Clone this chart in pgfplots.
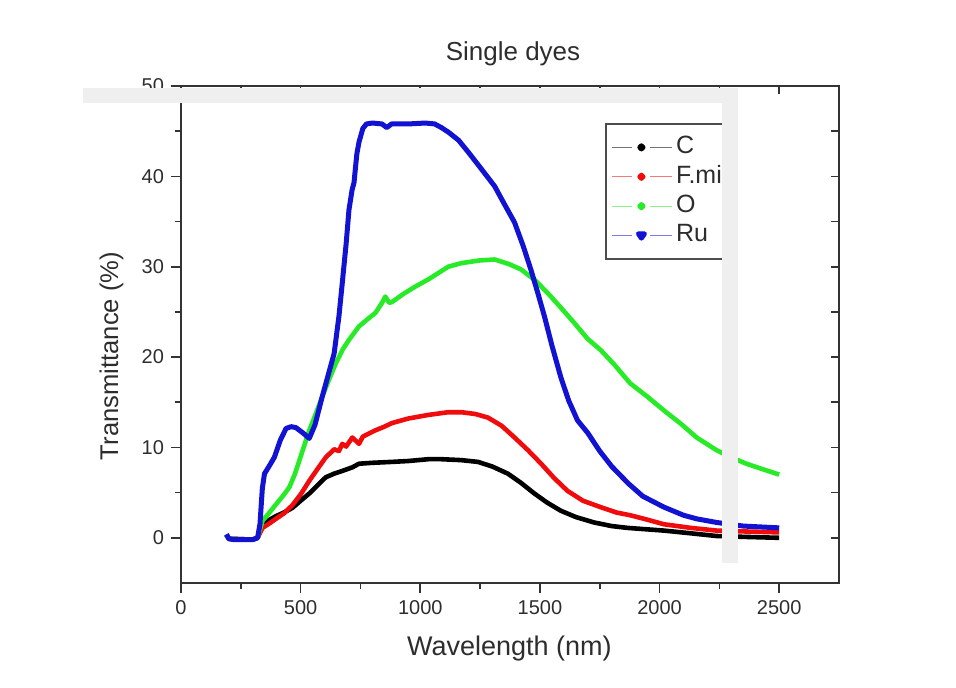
\documentclass[border=0pt]{standalone}
\usepackage{fontspec}
\setmainfont{Liberation Sans}
\usepackage{pgfplots}
\pgfplotsset{compat=1.18}
\definecolor{cC}{RGB}{0,0,0}
\definecolor{cF}{RGB}{240,12,12}
\definecolor{cO}{RGB}{40,235,40}
\definecolor{cR}{RGB}{18,18,210}
\definecolor{band}{RGB}{239,239,239}
\definecolor{txt}{RGB}{45,45,45}
\pgfplotsset{
  dotleg/.style={legend image code/.code={
    \draw[line width=0.6pt,opacity=0.55] (0pt,0pt) -- (10pt,0pt) (19pt,0pt) -- (30pt,0pt);
    \fill (14.5pt,0pt) circle (0.9pt);}},
  trileg/.style={legend image code/.code={
    \draw[line width=0.6pt,opacity=0.55] (0pt,0pt) -- (10pt,0pt) (19pt,0pt) -- (30pt,0pt);
    \fill (13pt,0.9pt) -- (16pt,0.9pt) -- (14.5pt,-1.3pt) -- cycle;}},
  common/.style={
    scale only axis, width=329pt, height=248.5pt,
    at={(0pt,0pt)}, anchor=south west,
    xmin=0, xmax=2750, ymin=-5, ymax=50,
    xtick={0,500,...,2500}, ytick={0,10,...,50},
    minor x tick num=1, minor y tick num=1,
    axis line style={line width=0.9pt, draw=black!80},
    every tick/.style={line width=0.8pt, black!80},
  },
}
\begin{document}
\begin{tikzpicture}
\path[use as bounding box] (-90.5pt,-52.5pt) rectangle (387.5pt,291.5pt);
\begin{axis}[common,
  tick align=outside, xtick pos=left, ytick pos=left,
  major tick length=5pt, minor tick length=3pt,
  ticklabel style={font=\fontsize{10}{12}\selectfont, text=txt},
  /pgf/number format/assume math mode=true,
  /pgf/number format/1000 sep={},
  title={Single dyes},
  title style={at={(axis description cs:0.5046,1.0523)}, anchor=base, yshift=-6.5pt, font=\fontsize{13}{15}\selectfont, text=txt},
  xlabel={Wavelength (nm)},
  xlabel style={at={(axis description cs:0.499,-0.1449)}, anchor=base, font=\fontsize{13.5}{16}\selectfont, text=txt},
  ylabel={Transmittance (\%)},
  ylabel style={at={(axis description cs:-0.0957,0.4567)}, anchor=base, font=\fontsize{12.8}{15}\selectfont, text=txt},
  legend style={at={(axis description cs:0.6444,0.9256)}, anchor=north west,
    draw=black!70, line width=0.8pt, fill=white,
    font=\fontsize{12.5}{14}\selectfont, text=txt,
    inner xsep=3pt, inner ysep=5pt, row sep=1.1pt,
    nodes={inner sep=1pt, text height=9pt, text depth=2.6pt},
    /tikz/column sep=0.5pt},
  legend cell align=left,
]
\addplot[cC, line width=2.3pt, line join=round, dotleg] coordinates {
(190,0.3)(200,-0.1)(300,-0.2)(320,0.0)(341,1.5)(370,2.0)(397,2.4)(430,2.8)(465,3.3)(500,4.1)(536,4.9)(570,5.8)(605,6.7)(640,7.1)(674,7.4)(716,7.8)(744,8.2)(800,8.3)(880,8.4)(951,8.5)(1034,8.7)(1088,8.7)(1170,8.6)(1241,8.4)(1300,7.9)(1366,7.1)(1420,6.1)(1477,4.9)(1530,3.9)(1587,3.0)(1650,2.3)(1726,1.7)(1800,1.3)(1865,1.1)(2018,0.8)(2130,0.5)(2238,0.2)(2360,0.1)(2500,0.0)
};
\addlegendentry{\makebox[22pt][l]{C}}
\addplot[cF, line width=2.3pt, line join=round, dotleg] coordinates {
(190,0.3)(200,-0.1)(300,-0.2)(320,0.0)(341,1.1)(370,1.6)(397,2.1)(430,2.7)(465,3.6)(500,4.8)(536,6.3)(570,7.6)(605,8.9)(640,9.8)(660,9.6)(674,10.4)(690,10.1)(716,11.1)(744,10.4)(760,11.2)(813,11.9)(850,12.3)(882,12.7)(950,13.2)(1034,13.6)(1117,13.9)(1172,13.9)(1230,13.7)(1283,13.3)(1340,12.4)(1394,11.1)(1450,9.7)(1505,8.2)(1560,6.6)(1615,5.2)(1680,4.1)(1753,3.4)(1820,2.8)(1877,2.5)(1950,2.0)(2018,1.5)(2130,1.1)(2238,0.8)(2360,0.7)(2500,0.6)
};
\addlegendentry{\makebox[22pt][l]{F.mix}}
\addplot[cO, line width=2.3pt, line join=round, dotleg] coordinates {
(190,0.3)(200,-0.1)(300,-0.2)(320,0.0)(341,1.9)(370,2.8)(397,3.7)(425,4.6)(453,5.6)(475,7.0)(494,8.5)(515,10.2)(536,11.9)(560,13.5)(590,15.6)(620,17.6)(647,19.3)(675,20.8)(702,21.9)(744,23.4)(780,24.2)(813,24.9)(840,26.0)(854,26.7)(870,26.0)(882,26.1)(930,27.0)(979,27.8)(1034,28.6)(1117,30.0)(1172,30.4)(1250,30.7)(1311,30.8)(1370,30.3)(1421,29.7)(1480,28.5)(1532,27.1)(1590,25.4)(1643,23.8)(1700,22.0)(1753,20.8)(1810,19.2)(1877,17.1)(1950,15.6)(2018,14.1)(2090,12.6)(2155,11.1)(2238,9.7)(2300,8.9)(2363,8.2)(2430,7.6)(2500,7.0)
};
\addlegendentry{\makebox[22pt][l]{O}}
\addplot[cR, line width=2.5pt, line join=round, trileg] coordinates {
(190,0.4)(200,-0.1)(220,-0.2)(300,-0.2)(320,0.0)(330,1.5)(340,5.5)(349,7.1)(370,8.0)(390,8.9)(415,10.8)(439,12.1)(460,12.3)(480,12.2)(510,11.6)(536,11.0)(560,12.5)(590,15.6)(615,18.0)(640,20.4)(660,24.5)(674,28.2)(690,32.5)(702,36.3)(715,38.5)(723,39.3)(735,42.5)(744,43.8)(760,45.3)(775,45.8)(800,45.9)(840,45.8)(860,45.4)(880,45.8)(950,45.8)(1021,45.9)(1060,45.8)(1088,45.4)(1117,44.9)(1160,44.0)(1200,42.7)(1250,41.0)(1311,38.9)(1350,37.0)(1394,34.9)(1430,32.3)(1462,29.7)(1490,27.2)(1519,24.5)(1550,21.3)(1587,17.8)(1620,15.2)(1657,13.0)(1700,11.6)(1750,9.6)(1800,7.9)(1870,6.0)(1930,4.6)(2018,3.4)(2100,2.5)(2155,2.1)(2238,1.7)(2350,1.3)(2500,1.1)
};
\addlegendentry{\makebox[22pt][l]{Ru}}
\end{axis}
\begin{axis}[common,
  tick align=inside, xtick pos=right, ytick pos=right,
  major tick length=4pt, minor tick length=4pt,
  xticklabels={}, yticklabels={},
]
\end{axis}
\fill[band] (-49pt,240pt) rectangle (278.5pt,247.5pt);
\fill[band] (270.5pt,10pt) rectangle (278.5pt,247.5pt);
\end{tikzpicture}
\end{document}
